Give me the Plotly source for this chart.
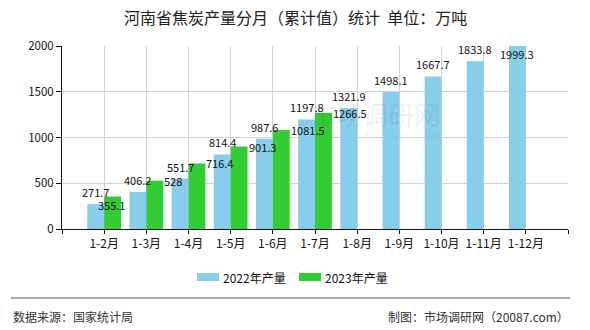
import plotly.graph_objects as go

categories = ["1-2月", "1-3月", "1-4月", "1-5月", "1-6月", "1-7月", "1-8月", "1-9月", "1-10月", "1-11月", "1-12月"]
values_2022 = [271.7, 406.2, 551.7, 814.4, 987.6, 1197.8, 1321.9, 1498.1, 1667.7, 1833.8, 1999.3]
values_2023 = [355.1, 528, 716.4, 901.3, 1081.5, 1266.5]
series_names = ["2022年产量", "2023年产量"]
y_ticks = [0, 500, 1000, 1500, 2000]

title_text = "河南省焦炭产量分月（累计值）统计  单位：万吨"
source_text = "数据来源：国家统计局"
credit_text = "制图：市场调研网（20087.com）"

BLUE = "#87CEEB"
GREEN = "#32CD32"
FONT = "Noto Sans CJK SC"

W, H = 590, 330
L, R, T, B = 62, 22, 46, 101
pw, ph = W - L - R, H - T - B


def px_x(x):
    return (x - L) / pw


def px_y(y):
    return (H - B - y) / ph


pos = list(range(1, len(categories) + 1))

fig = go.Figure()
fig.add_trace(go.Bar(x=pos, y=values_2022, name=series_names[0], marker_color=BLUE,
                     marker_line_width=0, offset=-0.4, width=0.4))
fig.add_trace(go.Bar(x=pos[:len(values_2023)], y=values_2023, name=series_names[1],
                     marker_color=GREEN, marker_line_width=0, offset=0.0, width=0.4))

annotations = []
lab_font = dict(family=FONT, size=11, color="#111")
# 2022 labels: centred above blue bars
for i, v in enumerate(values_2022):
    ys = 12
    if i == len(values_2022) - 1:
        ys = -8
    annotations.append(dict(x=pos[i] - 0.2, y=v, xref="x", yref="y", text=f"{v:g}",
                            showarrow=False, yshift=ys, font=lab_font, borderpad=0,
                            xanchor="center", yanchor="middle"))
# 2023 labels: starting at right edge of green bars, centred on bar top
for i, v in enumerate(values_2023):
    xx, ys = pos[i] + 0.4, 0
    if i == 0:
        xx, ys = pos[i] - 0.17, -8
    annotations.append(dict(x=xx, y=v, xref="x", yref="y", text=f"{v:g}",
                            showarrow=False, yshift=ys, font=lab_font, borderpad=0,
                            xanchor="left", yanchor="middle"))

# watermark
annotations.append(dict(x=px_x(441), y=px_y(113), xref="paper", yref="paper", text="市场调研网",
                        showarrow=False, borderpad=0,
                        font=dict(family=FONT, size=26, color="rgba(0,0,0,0.07)")))
annotations.append(dict(x=px_x(441), y=px_y(134), xref="paper", yref="paper", text="www.20087.com",
                        showarrow=False, borderpad=0,
                        font=dict(family=FONT, size=10, color="rgba(0,0,0,0.06)")))

# title & footer
annotations.append(dict(x=px_x(295), y=px_y(17), xref="paper", yref="paper", text=title_text,
                        showarrow=False, xanchor="center", yanchor="middle",
                        font=dict(family=FONT, size=16, color="#222")))
annotations.append(dict(x=px_x(11), y=px_y(316), xref="paper", yref="paper", text=source_text,
                        showarrow=False, xanchor="left", yanchor="middle",
                        font=dict(family=FONT, size=12, color="#333")))
annotations.append(dict(x=px_x(571), y=px_y(316), xref="paper", yref="paper", text=credit_text,
                        showarrow=False, xanchor="right", yanchor="middle",
                        font=dict(family=FONT, size=12, color="#333")))

shapes = [dict(type="line", xref="paper", yref="paper", x0=px_x(11), x1=px_x(570),
               y0=px_y(298), y1=px_y(298), line=dict(color="#888", width=1.5))]

# legend (drawn as wide rectangles like the reference)
legend_items = [(series_names[0], BLUE, 197), (series_names[1], GREEN, 299)]
for name, col, lx in legend_items:
    shapes.append(dict(type="rect", xref="paper", yref="paper", x0=px_x(lx), x1=px_x(lx + 22),
                       y0=px_y(281), y1=px_y(273), fillcolor=col, line=dict(width=0)))
    annotations.append(dict(x=px_x(lx + 25), y=px_y(277), xref="paper", yref="paper", text=name,
                            showarrow=False, xanchor="left", yanchor="middle", borderpad=0,
                            font=dict(family=FONT, size=12, color="#111")))

fig.update_layout(
    width=W, height=H,
    margin=dict(l=L, r=R, t=T, b=B, pad=0),
    paper_bgcolor="white", plot_bgcolor="white",
    barmode="overlay",
    showlegend=False,
    annotations=annotations,
    shapes=shapes,
    font=dict(family=FONT, size=12, color="#111"),
)
fig.update_xaxes(range=[0, len(categories) + 1], tickmode="array",
                 tickvals=list(range(0, len(categories) + 2)),
                 ticktext=[""] + categories + [""],
                 showgrid=True, gridcolor="#d4d4d4", gridwidth=1,
                 showline=True, linecolor="#111", linewidth=1,
                 ticks="outside", ticklen=4, tickcolor="#111",
                 tickfont=dict(family=FONT, size=12, color="#111"), zeroline=False)
fig.update_yaxes(range=[0, 2000], tickmode="array", tickvals=y_ticks,
                 showgrid=True, gridcolor="#d4d4d4", gridwidth=1,
                 showline=True, linecolor="#111", linewidth=1,
                 ticks="outside", ticklen=5, tickcolor="#111",
                 tickfont=dict(family=FONT, size=11.5, color="#111"), zeroline=False)

fig.write_html("out.html")
